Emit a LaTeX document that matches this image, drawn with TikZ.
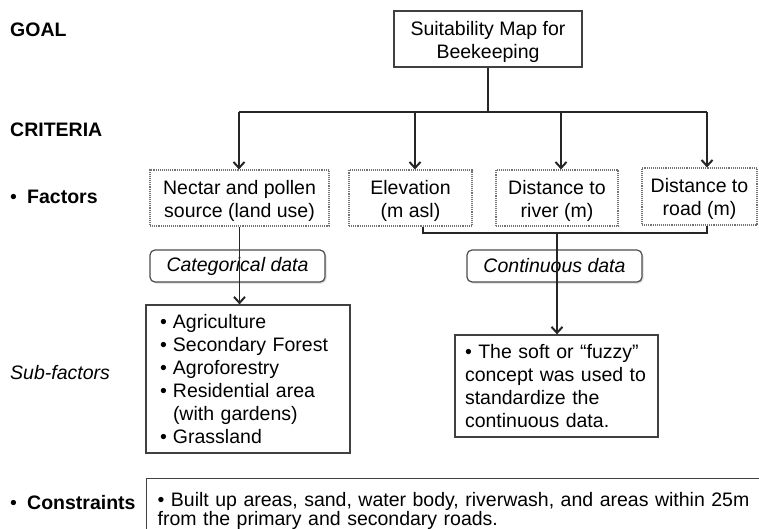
\documentclass[tikz,border=0pt]{standalone}
\usepackage{fontspec}
\setmainfont{Liberation Sans}
\usetikzlibrary{arrows.meta,shadows}

% invisible strut that lowers two-line box texts slightly
\newcommand\toppad{\rule{0pt}{20pt}}

\begin{document}
\begin{tikzpicture}[x=1pt,y=-1pt,
  txt/.style={font=\fontsize{19.5}{23}\selectfont},
  solidbox/.style={draw=black!75, line width=1.3pt, txt, inner sep=0pt},
  factorbox/.style={draw=black!55, densely dotted, line width=1.1pt, txt, align=center, inner sep=0pt},
  databox/.style={draw=black!70, line width=1.2pt, rounded corners=5pt, fill=white,
    drop shadow={opacity=0.3, shadow xshift=1.5pt, shadow yshift=-1.5pt},
    font=\itshape\fontsize{19.5}{23}\selectfont, inner sep=0pt},
  link/.style={draw=black!85, line width=1.8pt},
  arr/.style={link, -{Straight Barb[length=6pt,width=11pt,line width=2pt]}},
  side/.style={txt, anchor=west, inner sep=0pt},
]
\useasboundingbox (0,0) rectangle (759,529);

% row labels on the left
\node[side, font=\bfseries\fontsize{19.5}{23}\selectfont] (lgoal) at (10,30) {GOAL};
\node[side, font=\bfseries\fontsize{19.5}{23}\selectfont] (lcrit) at (10,130) {CRITERIA};
\node[side, font=\bfseries\fontsize{19.5}{23}\selectfont] (lfact) at (10,197) {\makebox[17pt][l]{\mdseries\textbullet}Factors};
\node[side, font=\itshape\fontsize{19.5}{23}\selectfont] (lsub) at (10,373) {Sub-factors};
\node[side, font=\bfseries\fontsize{19.5}{23}\selectfont] (lcons) at (10,503) {\makebox[17pt][l]{\mdseries\textbullet}Constraints};

% goal
\node[solidbox, minimum width=188pt, minimum height=56pt, align=center] (goal) at (488,39)
  {\toppad Suitability Map for\\Beekeeping};

% factors
\node[factorbox, minimum width=179pt, minimum height=56pt] (nectar) at (239.5,198) {\toppad Nectar and pollen\\source (land use)};
\node[factorbox, minimum width=123pt, minimum height=56pt] (elev) at (410.5,198) {\toppad Elevation\\(m asl)};
\node[factorbox, minimum width=122pt, minimum height=56pt] (river) at (557,198) {\toppad Distance to\\river (m)};
\node[factorbox, minimum width=115pt, minimum height=57pt] (road) at (699.5,196.5) {\toppad Distance to\\road (m)};

% data type tags
\node[databox, minimum width=175pt, minimum height=32pt] (cat) at (237.5,266) {Categorical data};
\node[databox, minimum width=175pt, minimum height=32pt] (cont) at (554.5,266) {Continuous data};

% sub-factors
\node[solidbox, minimum height=148pt, inner xsep=14pt, text width=176pt, align=left] (list) at (248,379)
  {\makebox[13pt][l]{\textbullet}Agriculture\\
   \makebox[13pt][l]{\textbullet}Secondary Forest\\
   \makebox[13pt][l]{\textbullet}Agroforestry\\
   \makebox[13pt][l]{\textbullet}Residential area\\
   \makebox[13pt][l]{}(with gardens)\\
   \makebox[13pt][l]{\textbullet}Grassland};
\node[solidbox, minimum height=102pt, inner xsep=10pt, text width=183pt, align=left] (fuzzy) at (556.5,386)
  {\textbullet{} The soft or “fuzzy”\\concept was used to\\standardize the\\continuous data.};

% constraints (box runs past the right and bottom edges)
\node[solidbox, font=\fontsize{19.5}{19}\selectfont, minimum height=64pt, inner xsep=11pt, text width=602pt, align=left, anchor=north west] (cons) at (146,478)
  {\textbullet{} Built up areas, sand, water body, riverwash, and areas within 25m\\from the primary and secondary roads.};

% connector junctions
\coordinate (bus) at (488,112);
\coordinate (busL) at (239,112);
\coordinate (busE) at (415,112);
\coordinate (busR) at (561,112);
\coordinate (busD) at (707,112);
\coordinate (jL) at (423,233);
\coordinate (jM) at (557,233);
\coordinate (jR) at (707,233);

% goal to criteria
\draw[link] (goal.south) -- (bus);
\draw[link] (busL) -- (busD);
\draw[arr] (busL) -- (busL |- nectar.north);
\draw[arr] (busE) -- (busE |- elev.north);
\draw[arr] (busR) -- (busR |- river.north);
\draw[arr] (busD) -- (busD |- road.north);

% factors to sub-factors
\draw[arr] (nectar.south) -- (nectar.south |- list.north);
\draw[link] (jL |- elev.south) -- (jL) -- (jR) -- (jR |- road.south);
\draw[arr] (jM) -- (jM |- fuzzy.north);
\end{tikzpicture}
\end{document}
